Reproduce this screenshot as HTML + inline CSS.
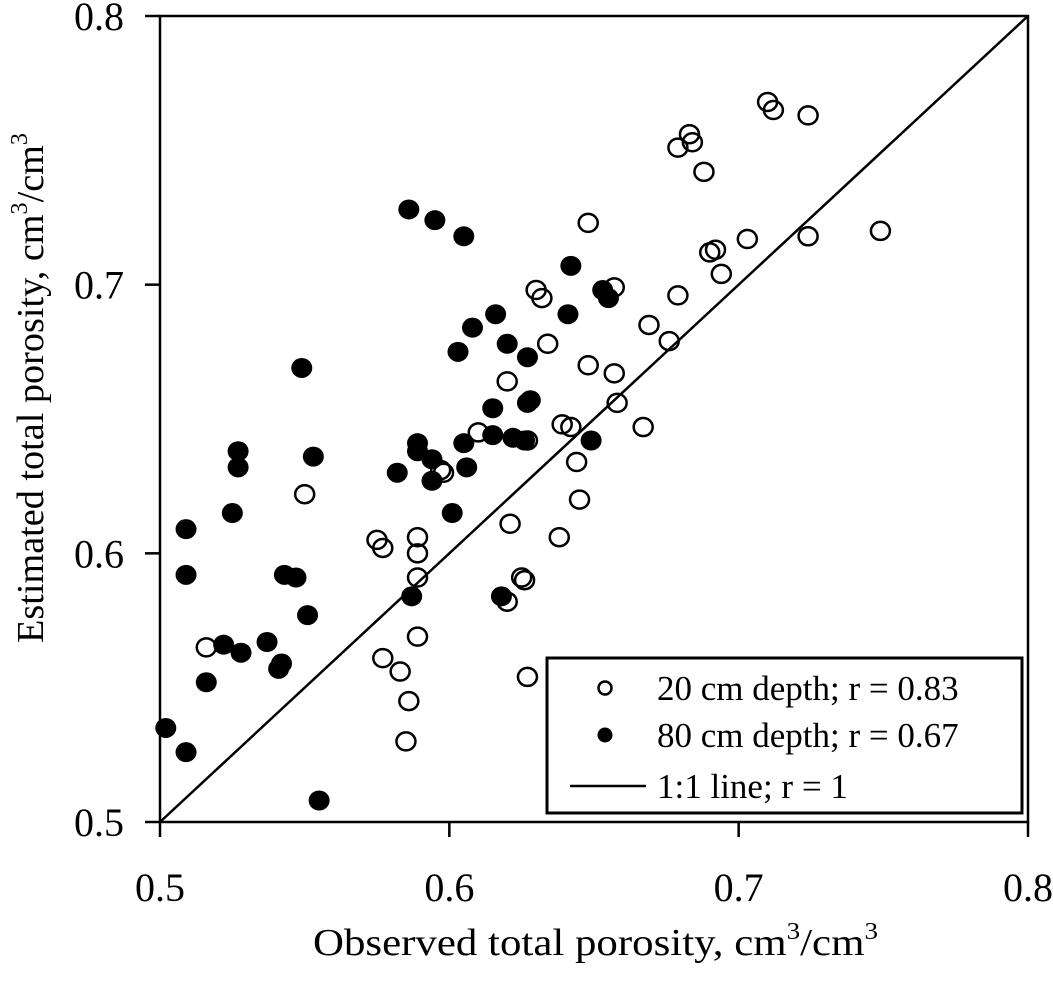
<!DOCTYPE html>
<html><head><meta charset="utf-8"><style>
html,body{margin:0;padding:0;background:#fff;}
svg{display:block;font-family:"Liberation Serif","Times New Roman",serif;}
</style></head><body>
<svg id="chart" width="1053" height="1000" viewBox="0 0 1053 1000" xmlns="http://www.w3.org/2000/svg">
<g id="axes"></g>
<g id="marks"></g>
<g id="legend">
  <rect x="547" y="658" width="475" height="155" fill="#fff" stroke="#000" stroke-width="3"/>
  <circle cx="605" cy="688" r="6.5" fill="#fff" stroke="#000" stroke-width="2.5"/>
  <text x="657" y="700" font-size="35">20 cm depth; r = 0.83</text>
  <circle cx="605" cy="735" r="7.5" fill="#000"/>
  <text x="657" y="747" font-size="35">80 cm depth; r = 0.67</text>
  <line x1="570" y1="786" x2="646" y2="786" stroke="#000" stroke-width="2.5"/>
  <text x="657" y="798" font-size="35">1:1 line; r = 1</text>
</g>
<text x="313" y="955" font-size="38" textLength="565" lengthAdjust="spacingAndGlyphs">Observed total porosity, cm<tspan font-size="24" dy="-16">3</tspan><tspan dy="16">/cm</tspan><tspan font-size="24" dy="-16">3</tspan></text>
<text transform="translate(43,643) rotate(-90)" font-size="38" textLength="510" lengthAdjust="spacingAndGlyphs">Estimated total porosity, cm<tspan font-size="24" dy="-16">3</tspan><tspan dy="16">/cm</tspan><tspan font-size="24" dy="-16">3</tspan></text>
</svg>
<script>
const xTicks = [0.5, 0.6, 0.7, 0.8];
const yTicks = [0.5, 0.6, 0.7, 0.8];
const tickLabels = ["0.5", "0.6", "0.7", "0.8"];
const obs20 = [0.550,0.575,0.577,0.589,0.589,0.589,0.589,0.577,0.583,0.586,0.585,0.516,0.597,0.598,0.610,
  0.710,0.712,0.724,0.683,0.684,0.679,0.688,0.648,0.749,0.724,0.703,0.690,0.692,0.694,0.679,0.657,0.630,0.632,
  0.669,0.676,0.634,0.648,0.657,0.620,0.658,0.639,0.642,0.667,0.627,0.644,0.645,0.638,0.621,0.625,0.626,0.620,0.627];
const est20 = [0.622,0.605,0.602,0.606,0.600,0.591,0.569,0.561,0.556,0.545,0.530,0.565,0.631,0.630,0.645,
  0.768,0.765,0.763,0.756,0.753,0.751,0.742,0.723,0.720,0.718,0.717,0.712,0.713,0.704,0.696,0.699,0.698,0.695,
  0.685,0.679,0.678,0.670,0.667,0.664,0.656,0.648,0.647,0.647,0.642,0.634,0.620,0.606,0.611,0.591,0.590,0.582,0.554];
const obs80 = [0.549,0.527,0.527,0.553,0.525,0.509,0.509,0.543,0.547,0.551,0.522,0.528,0.537,0.542,0.541,0.516,0.502,0.509,0.555,
  0.587,0.582,0.589,0.589,0.594,0.594,0.605,0.606,0.601,0.603,0.608,0.616,0.615,0.615,0.618,
  0.586,0.595,0.605,0.642,0.653,0.655,0.641,0.620,0.627,0.628,0.627,0.622,0.626,0.649];
const est80 = [0.669,0.638,0.632,0.636,0.615,0.609,0.592,0.592,0.591,0.577,0.566,0.563,0.567,0.559,0.557,0.552,0.535,0.526,0.508,
  0.584,0.630,0.641,0.638,0.635,0.627,0.641,0.632,0.615,0.675,0.684,0.689,0.654,0.644,0.584,
  0.728,0.724,0.718,0.707,0.698,0.695,0.689,0.678,0.673,0.657,0.656,0.643,0.642,0.642];

const X0 = 160, X1 = 1028, Y0 = 822, Y1 = 16;
function xs(v){ return X0 + (v - 0.5) / 0.3 * (X1 - X0); }
function ys(v){ return Y0 - (v - 0.5) / 0.3 * (Y0 - Y1); }
const NS = "http://www.w3.org/2000/svg";
function mk(tag, attrs, parent){
  const e = document.createElementNS(NS, tag);
  for (const k in attrs) e.setAttribute(k, attrs[k]);
  parent.appendChild(e);
  return e;
}
const axes = document.getElementById('axes');
const frame = mk('rect', {x:X0, y:Y1, width:X1-X0, height:Y0-Y1, fill:'none', stroke:'#000', 'stroke-width':2.5}, axes);


xTicks.forEach((t, i) => {
  const l = mk('line', {x1:xs(t), y1:Y0, x2:xs(t), y2:Y0+15, stroke:'#000', 'stroke-width':2.5}, axes);
  
  
  const tx = mk('text', {x:xs(t), y:901, 'font-size':40, 'text-anchor':'middle'}, axes);
  
  
  tx.textContent = tickLabels[i];
});
yTicks.forEach((t, i) => {
  const l = mk('line', {x1:X0-15, y1:ys(t), x2:X0, y2:ys(t), stroke:'#000', 'stroke-width':2.5}, axes);
  
  
  const tx = mk('text', {x:124, y:ys(t)+14, 'font-size':40, 'text-anchor':'end'}, axes);
  
  
  tx.textContent = tickLabels[i];
});
const marks = document.getElementById('marks');
const ln = mk('line', {x1:xs(0.5), y1:ys(0.5), x2:xs(0.8), y2:ys(0.8), stroke:'#000', 'stroke-width':2.5}, marks);


obs80.forEach((v, i) => {
  const c = mk('ellipse', {cx:xs(v), cy:ys(est80[i]), rx:10.5, ry:10, fill:'#000'}, marks);
  
  
});
obs20.forEach((v, i) => {
  const c = mk('ellipse', {cx:xs(v), cy:ys(est20[i]), rx:9.5, ry:9, fill:'none', stroke:'#000', 'stroke-width':2.5}, marks);
  
  
});
</script>
</body></html>
